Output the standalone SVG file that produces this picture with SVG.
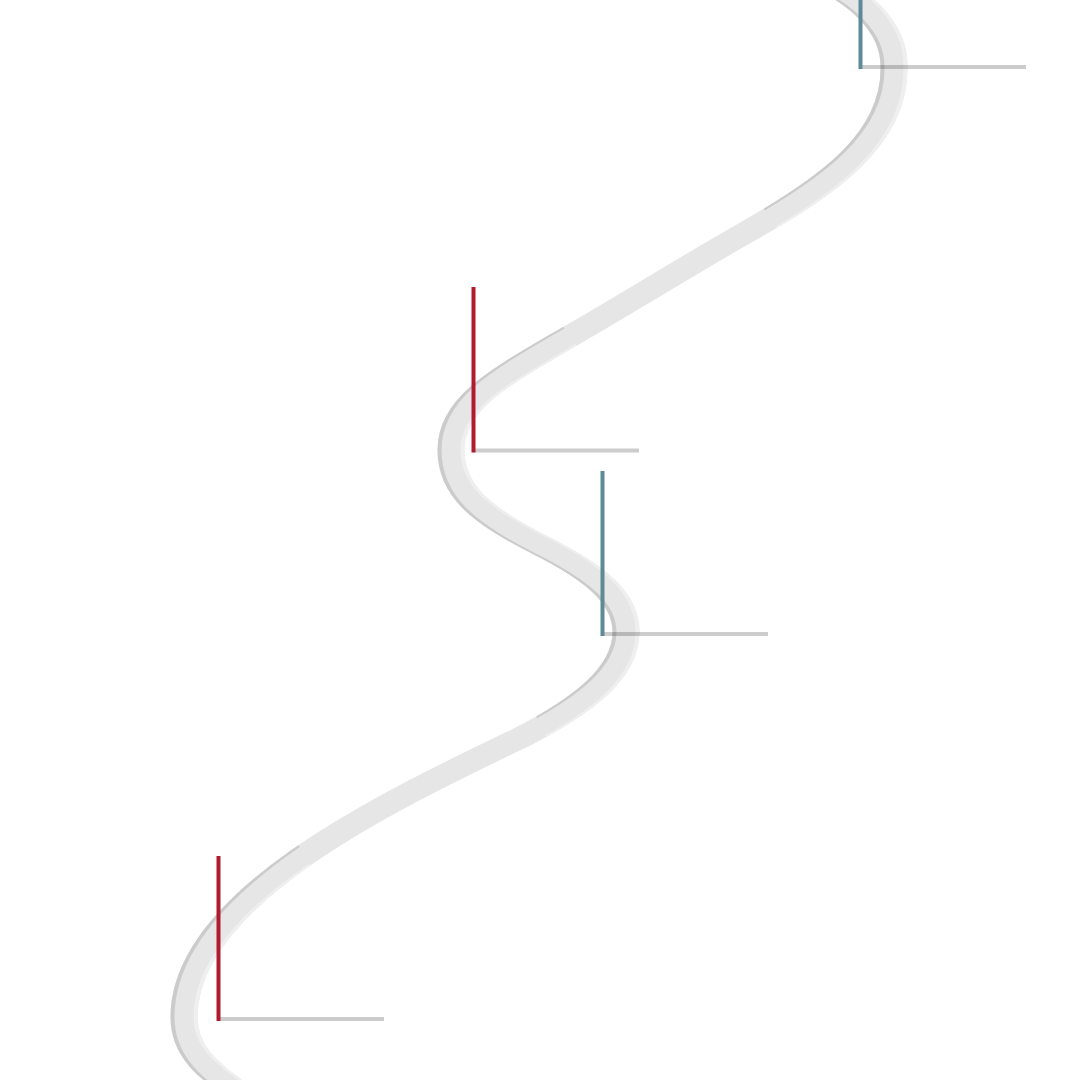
<svg xmlns="http://www.w3.org/2000/svg" xmlns:xlink="http://www.w3.org/1999/xlink" width="1080" height="1080" viewBox="0 0 1080 1080">
  <style>
    .road { fill: none; stroke-width: 19; stroke-linecap: butt; stroke-linejoin: round; }
    .road-dark { stroke: #cbcbcb; }
    .road-light { stroke: #efefef; }
    .road-main { stroke: #e6e6e6; }
    .base { stroke: #000000; stroke-opacity: 0.2; stroke-width: 4; fill: none; }
    .pole { stroke-width: 4; fill: none; }
    .red { stroke: #b01b2e; }
    .teal { stroke: #5e8a96; }
  </style>
  <defs>
    <path id="road-path" d="M 800,-30 C 865,-5 894,30 894,66 C 896,140 825,188 745,233 C 680,270 620,308 560,342 C 495,380 451,405 451,450 C 451,490 480,515 540,545 C 600,575 626,600 626,632 C 626,672 585,705 520,738 C 380,805 184,900 184,1017 C 184,1050 205,1070 248,1098"/>
    <mask id="edge-mask" maskUnits="userSpaceOnUse" x="0" y="0" width="1080" height="1080">
      <rect x="0" y="0" width="1080" height="1080" fill="#ffffff"/>
      <polygon points="745,180 782,236 590,365 555,315" fill="#000000"/>
      <polygon points="520,684 555,754 320,882 285,822" fill="#000000"/>
    </mask>
  </defs>
  <rect x="0" y="0" width="1080" height="1080" fill="#ffffff"/>
  <g id="connectors">
    <use xlink:href="#road-path" class="road road-main" transform="translate(4,0)"/>
    <use xlink:href="#road-path" class="road road-main" transform="translate(-4,0)"/>
    <g id="road-edges" mask="url(#edge-mask)">
      <use xlink:href="#road-path" class="road road-light" transform="translate(4,0)"/>
      <use xlink:href="#road-path" class="road road-dark" transform="translate(-4,0)"/>
    </g>
    <use id="road" xlink:href="#road-path" class="road road-main"/>
  </g>
  <g id="marker-1">
    <line class="base" x1="860" y1="67" x2="1026" y2="67"/>
    <line class="pole teal" x1="860.5" y1="-100" x2="860.5" y2="69"/>
  </g>
  <g id="marker-2">
    <line class="base" x1="473" y1="450.5" x2="639" y2="450.5"/>
    <line class="pole red" x1="473.5" y1="287" x2="473.5" y2="452.5"/>
  </g>
  <g id="marker-3">
    <line class="base" x1="602" y1="634" x2="768" y2="634"/>
    <line class="pole teal" x1="602.5" y1="471" x2="602.5" y2="636"/>
  </g>
  <g id="marker-4">
    <line class="base" x1="218" y1="1019" x2="384" y2="1019"/>
    <line class="pole red" x1="218.5" y1="856" x2="218.5" y2="1021"/>
  </g>
</svg>
